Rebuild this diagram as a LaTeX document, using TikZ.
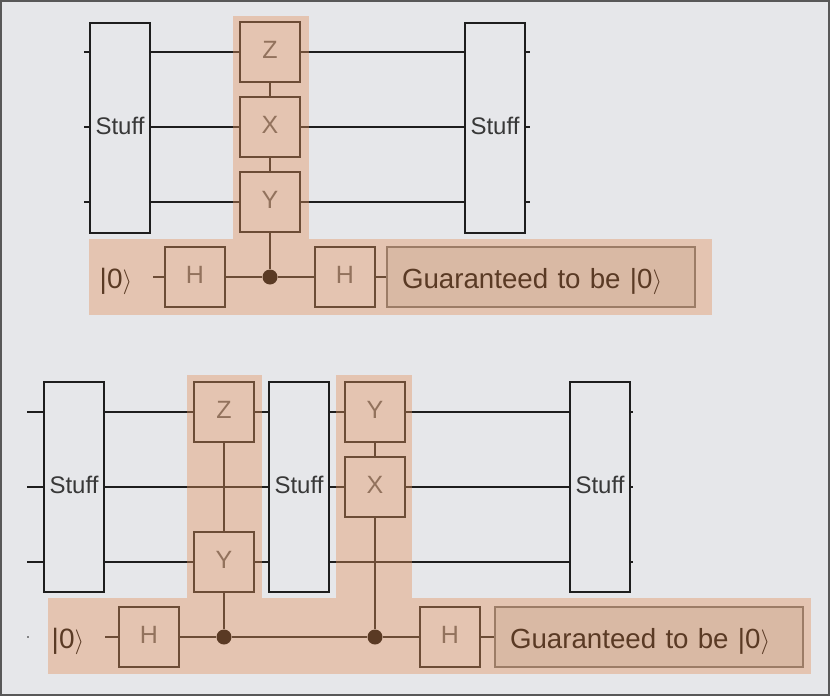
\documentclass[tikz,border=0pt]{standalone}
\usepackage{fontspec}
\setmainfont{Liberation Sans}
\usetikzlibrary{positioning,backgrounds}
\definecolor{ink}{HTML}{1E1E1E}
\definecolor{inksoft}{HTML}{5E5E5E}
\definecolor{paper}{HTML}{E6E7EA}
\definecolor{frame}{HTML}{585858}
\definecolor{resbg}{HTML}{D4D4D5}
\definecolor{resbd}{HTML}{6E6E6E}
\definecolor{glow}{HTML}{E1915C}
\tikzset{
  stuffbox/.style={rectangle,draw=ink,line width=1.7pt,fill=paper,text=black!78,outer sep=0pt,
    font=\fontsize{24}{24}\selectfont,text depth=4pt,minimum width=60pt,minimum height=210pt,inner sep=0pt},
  gatebox/.style={rectangle,draw=ink,line width=1.7pt,fill=paper,text=inksoft,outer sep=0pt,
    font=\fontsize{25}{25}\selectfont,text depth=4pt,minimum size=60pt,inner sep=0pt},
  resbox/.style={rectangle,draw=resbd,line width=1.7pt,fill=resbg,text=black,align=left,outer sep=0pt,
    font=\fontsize{27.7}{28}\selectfont,text height=28pt,text depth=6pt,minimum height=60pt,inner xsep=15pt,inner ysep=0pt},
  ketlabel/.style={text=black,font=\fontsize{28}{28}\selectfont,inner sep=0pt},
  ctrldot/.style={circle,fill=black,minimum size=15pt,inner sep=0pt},
  wire/.style={line width=1.7pt,color=ink},
  glowbox/.style={rectangle,fill=glow,fill opacity=0.4,anchor=north west,inner sep=0pt},
}
\newcommand{\ketzero}{|0$\rangle$}
\begin{document}
\begin{tikzpicture}[x=1pt,y=-1pt]
  \useasboundingbox (0,0) rectangle (830,696);

  % upper circuit
  \node[stuffbox] (stl) at (120,128) {Stuff};
  \node[stuffbox] (str) at (495,128) {Stuff};
  \node[gatebox] (gz) at (270,52) {Z};
  \node[gatebox,below=15pt of gz] (gx) {X};
  \node[gatebox,below=15pt of gx] (gy) {Y};
  \node[ctrldot] (dot) at (270,277) {};
  \node[gatebox] (ha) at (195,277) {H};
  \node[gatebox] (hb) at (345,277) {H};
  \node[resbox,text width=278pt,right=12pt of hb] (res) {Guaranteed to be \ketzero};
  \node[ketlabel] (ket) at (116,281) {\ketzero};
  \coordinate (tl1) at (84,52);
  \coordinate (tl2) at (84,127);
  \coordinate (tl3) at (84,202);
  \coordinate (tr1) at (530,52);
  \coordinate (tr2) at (530,127);
  \coordinate (tr3) at (530,202);
  \coordinate (anc) at (153,277);

  % lower circuit
  \node[stuffbox] (sba) at (74,487) {Stuff};
  \node[stuffbox] (sbb) at (299,487) {Stuff};
  \node[stuffbox] (sbc) at (600,487) {Stuff};
  \node[gatebox] (bz) at (224,412) {Z};
  \node[gatebox] (by) at (224,562) {Y};
  \node[gatebox] (cy) at (375,412) {Y};
  \node[gatebox,below=15pt of cy] (cx) {X};
  \node[ctrldot] (doa) at (224,637) {};
  \node[ctrldot] (dob) at (375,637) {};
  \node[gatebox] (hc) at (149,637) {H};
  \node[gatebox] (hd) at (450,637) {H};
  \node[resbox,text width=278pt,right=15pt of hd] (rbs) {Guaranteed to be \ketzero};
  \node[ketlabel] (kbt) at (68,641) {\ketzero};
  \node[circle,fill=ink,minimum size=1.6pt,inner sep=0pt] (spk) at (28,637) {};
  \coordinate (bl1) at (27,412);
  \coordinate (bl2) at (27,487);
  \coordinate (bl3) at (27,562);
  \coordinate (br1) at (633,412);
  \coordinate (br2) at (633,487);
  \coordinate (br3) at (633,562);
  \coordinate (bnc) at (105,637);

  \begin{scope}[on background layer]
    \fill[paper] (0,0) rectangle (830,696);
    \draw[frame,line width=2pt] (1,1) rectangle (829,695);
    \draw[wire] (tl1) -- (tr1);
    \draw[wire] (tl2) -- (tr2);
    \draw[wire] (tl3) -- (tr3);
    \draw[wire] (gz) -- (gx);
    \draw[wire] (gx) -- (gy);
    \draw[wire] (gy) -- (dot);
    \draw[wire] (anc) -- (ha);
    \draw[wire] (ha) -- (dot);
    \draw[wire] (dot) -- (hb);
    \draw[wire] (hb) -- (res);
    \draw[wire] (bl1) -- (br1);
    \draw[wire] (bl2) -- (br2);
    \draw[wire] (bl3) -- (br3);
    \draw[wire] (bz) -- (by);
    \draw[wire] (by) -- (doa);
    \draw[wire] (cy) -- (cx);
    \draw[wire] (cx) -- (dob);
    \draw[wire] (bnc) -- (hc);
    \draw[wire] (hc) -- (doa);
    \draw[wire] (doa) -- (dob);
    \draw[wire] (dob) -- (hd);
    \draw[wire] (hd) -- (rbs);
  \end{scope}

  % tinted bands go over everything
  \node[glowbox,minimum width=76pt,minimum height=223pt] (gla) at (233,16) {};
  \node[glowbox,minimum width=623pt,minimum height=76pt] (glb) at (89,239) {};
  \node[glowbox,minimum width=75pt,minimum height=223pt] (glc) at (187,375) {};
  \node[glowbox,minimum width=76pt,minimum height=223pt] (gld) at (336,375) {};
  \node[glowbox,minimum width=763pt,minimum height=76pt] (gle) at (48,598) {};
\end{tikzpicture}
\end{document}
